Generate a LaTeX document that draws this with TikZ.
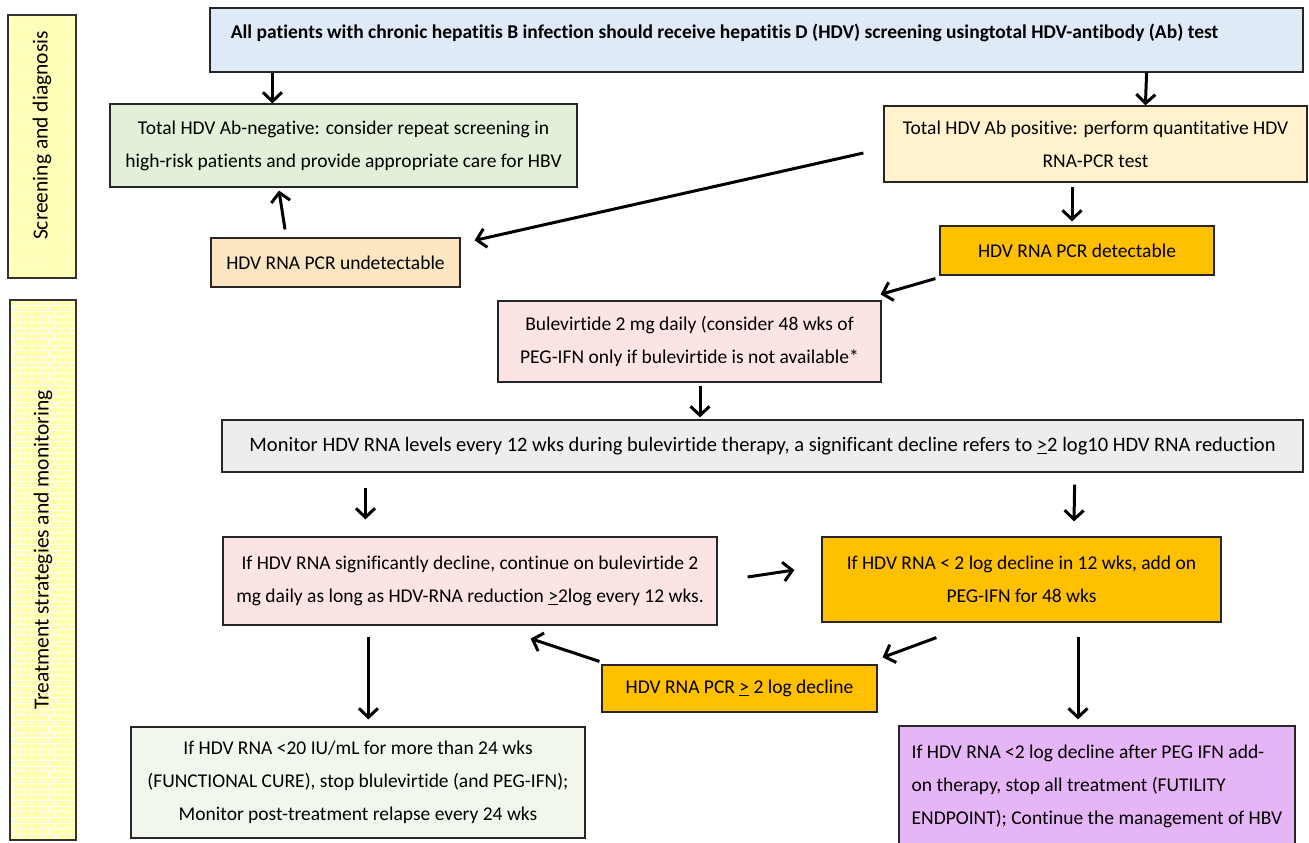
\documentclass[tikz,border=0pt]{standalone}
\usepackage{fontspec}
\setmainfont{Carlito}[Ligatures=CommonOff]
\usetikzlibrary{arrows.meta,patterns}
\definecolor{topblue}{HTML}{DEEAF6}
\definecolor{neggreen}{HTML}{E2EFD9}
\definecolor{posyellow}{HTML}{FFF2CC}
\definecolor{undetpeach}{HTML}{FCE6C2}
\definecolor{detorange}{HTML}{FFC000}
\definecolor{bulepink}{HTML}{FCE4E4}
\definecolor{mongray}{HTML}{EDEDED}
\definecolor{curegreen}{HTML}{F2F7EE}
\definecolor{futviolet}{HTML}{E6B5F5}
\definecolor{sideyellow}{HTML}{FFFF99}

\begin{document}
\begin{tikzpicture}[x=1pt, y=-1pt,
    box/.style={draw=black!85, line width=1.2pt, inner sep=0pt, align=center,
        font=\fontsize{19.5}{33}\selectfont},
    side/.style={draw=black!80, line width=1.2pt, rotate=90, inner sep=0pt,
        font=\fontsize{21.5}{24}\selectfont,
        preaction={fill=sideyellow!80}, pattern color=white},
    arr/.style={-{Straight Barb[length=9pt,width=19pt]}, line width=3pt}]
    \useasboundingbox (0,0) rectangle (1309,843);

    % Side labels
    \node[side, pattern=crosshatch dots, minimum width=263, minimum height=68] (sidescreen) at (42,146.5) {\hspace*{22pt}Screening and diagnosis};
    \node[side, pattern=bricks, minimum width=540, minimum height=66] (sidetreat) at (43,570) {\hspace*{40pt}Treatment strategies and monitoring};

    % Screening and diagnosis
    \node[box, fill=topblue, minimum width=1093, minimum height=64, text depth=18pt] (screen) at (756.5,40)
        {\bfseries All patients with chronic hepatitis B infection should receive hepatitis D (HDV) screening usingtotal HDV-antibody (Ab) test\hspace*{64pt}};
    \node[box, fill=neggreen, minimum width=467, minimum height=83] (abneg) at (343.5,145.5)
        {Total HDV Ab-negative: consider repeat screening in\\ high-risk patients and provide appropriate care for HBV};
    \node[box, fill=posyellow, minimum width=423, minimum height=76] (abpos) at (1095.5,144)
        {Total HDV Ab positive: perform quantitative HDV\\ RNA-PCR test};
    \node[box, fill=undetpeach, minimum width=249, minimum height=49] (undet) at (335.5,262.5)
        {HDV RNA PCR undetectable};
    \node[box, fill=detorange, minimum width=274, minimum height=49] (det) at (1077,250.5)
        {HDV RNA PCR detectable};

    % Treatment strategies and monitoring
    \node[box, fill=bulepink, minimum width=383, minimum height=81] (bule) at (689.5,341.5)
        {Bulevirtide 2 mg daily (consider 48 wks of\\ PEG-IFN only if bulevirtide is not available*};
    \node[box, fill=mongray, minimum width=1081, minimum height=52, font=\fontsize{20.5}{33}\selectfont] (monitor) at (762.5,446)
        {Monitor HDV RNA levels every 12 wks during bulevirtide therapy, a significant decline refers to \underline{>}2 log10 HDV RNA reduction};
    \node[box, fill=bulepink, minimum width=494, minimum height=88] (sigdecl) at (470,581)
        {If HDV RNA significantly decline, continue on bulevirtide 2\\ mg daily as long as HDV-RNA reduction \underline{>}2log every 12 wks.};
    \node[box, fill=detorange, minimum width=399, minimum height=85] (lowdecl) at (1021.5,579.5)
        {If HDV RNA < 2 log decline in 12 wks, add on\\ PEG-IFN for 48 wks};
    \node[box, fill=detorange, minimum width=275, minimum height=47] (pcrdecl) at (739.5,688.5)
        {HDV RNA PCR \underline{>} 2 log decline};
    \node[box, fill=curegreen, minimum width=454, minimum height=111] (cure) at (358,782.5)
        {If HDV RNA <20 IU/mL for more than 24 wks\\ (FUNCTIONAL CURE), stop blulevirtide (and PEG-IFN);\\ Monitor post-treatment relapse every 24 wks};
    \node[box, fill=futviolet, align=left, minimum width=396, minimum height=120] (futile) at (1097,786)
        {If HDV RNA <2 log decline after PEG IFN add-\\ on therapy, stop all treatment (FUTILITY\\ ENDPOINT); Continue the management of HBV};

    % Arrows
    \draw[arr] ([xshift=63]screen.south west) -- ([xshift=163]abneg.north west);
    \draw[arr] ([xshift=-157]screen.south east) -- ([xshift=262]abpos.north west);
    \draw[arr] ([shift={(-20,9)}]abpos.west) -- ([shift={(14,3)}]undet.north east);
    \draw[arr] ([shift={(-50.5,-8)}]undet.north) -- ([shift={(-64.5,3)}]abneg.south);
    \draw[arr] ([shift={(-23.5,4)}]abpos.south) -- ([shift={(-5,-4)}]det.north);
    \draw[arr] ([shift={(-4,3)}]det.south west) -- ([shift={(-1,-6)}]bule.north east);
    \draw[arr] ([shift={(10.5,3)}]bule.south) -- ([shift={(-62.5,-2)}]monitor.north);
    \draw[arr] ([shift={(144,15)}]monitor.south west) -- ([shift={(143,-17)}]sigdecl.north west);
    \draw[arr] ([shift={(-229,12)}]monitor.south east) -- ([shift={(52.5,-15)}]lowdecl.north);
    \draw[arr] ([shift={(30,-4)}]sigdecl.east) -- ([shift={(-27,-9.5)}]lowdecl.west);
    \draw[arr] ([shift={(115,15)}]lowdecl.south west) -- ([shift={(5,-7)}]pcrdecl.north east);
    \draw[arr] ([shift={(-2,-3)}]pcrdecl.north west) -- ([shift={(-187,13)}]sigdecl.south east);
    \draw[arr] ([shift={(146,11)}]sigdecl.south west) -- ([shift={(238,-7)}]cure.north west);
    \draw[arr] ([shift={(56.5,14)}]lowdecl.south) -- ([shift={(-19,-6)}]futile.north);
\end{tikzpicture}
\end{document}
